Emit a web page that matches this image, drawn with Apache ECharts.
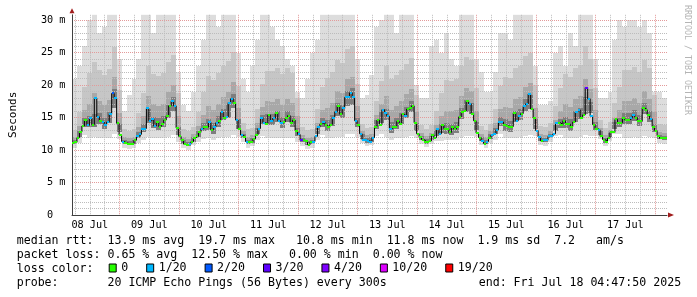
<!DOCTYPE html>
<html><head><meta charset="utf-8">
<script src="https://cdn.jsdelivr.net/npm/echarts@6/dist/echarts.min.js"></script>
<style>html,body{margin:0;padding:0;background:#fff}#c{width:697px;height:297px}</style>
</head><body><div id="c"></div>
<script>
// hours since 08 Jul 00:00 of the first sample (Jul 8 04:47:50)
const START_H = 4 + 47/60 + 50/3600;
const dayLabels = ['08 Jul','09 Jul','10 Jul','11 Jul','12 Jul','13 Jul','14 Jul','15 Jul','16 Jul','17 Jul'];
const yLabelValues = [0,5,10,15,20,25,30];

// hourly median rtt (ms)
const medianRtt = [
11.1,11.2,11.9,12.8,13.7,14.6,13.8,14.9,13.9,18.0,
15.1,14.4,14.3,13.9,14.3,15.5,18.7,18.0,14.1,12.3,
11.3,11.1,11.0,11.0,10.9,11.5,12.1,12.4,13.3,13.3,
16.4,14.5,14.8,13.7,14.3,13.6,14.0,14.6,15.3,16.8,
17.5,16.8,13.4,12.1,11.5,10.9,10.8,10.9,11.3,11.9,
12.1,12.7,13.3,13.6,13.5,14.3,13.1,13.5,14.2,14.5,
15.8,14.9,15.1,17.3,17.9,17.3,14.6,13.2,12.3,12.0,
11.3,11.2,11.2,11.7,12.3,13.3,15.0,14.2,14.0,15.4,
14.4,14.9,15.7,14.5,14.1,14.3,14.9,15.3,14.2,14.6,
13.0,12.4,11.5,11.5,11.4,10.8,11.2,11.3,12.1,13.5,
14.0,14.3,13.8,13.5,13.9,15.0,15.9,16.8,15.5,16.4,
18.1,18.1,18.8,18.1,14.5,13.9,12.5,11.6,11.5,11.4,
11.3,11.9,13.6,14.6,13.9,16.2,15.7,15.2,13.3,13.5,
13.6,14.4,14.0,15.5,15.2,16.3,16.4,16.8,14.2,12.5,
12.0,11.6,11.3,11.3,11.4,12.3,11.9,13.2,12.5,13.9,
13.3,13.2,12.7,13.6,13.2,13.6,15.1,15.9,16.0,17.5,
17.1,15.6,14.5,12.6,11.9,11.4,11.0,11.3,11.8,12.3,
12.5,13.1,14.3,14.3,13.9,13.7,13.6,13.6,15.7,14.5,
15.2,15.6,16.7,17.1,18.6,16.3,14.9,13.0,12.0,11.4,
11.5,11.5,12.1,12.1,12.5,14.1,14.2,13.9,14.5,14.0,
14.0,13.6,14.3,15.9,16.2,14.9,15.4,19.6,17.9,15.2,
13.9,13.3,13.1,12.1,11.6,11.3,11.8,12.7,12.7,14.7,
14.2,14.2,15.0,14.6,14.6,14.9,15.4,15.0,14.5,14.4,
16.5,16.2,15.4,14.8,13.6,13.0,12.2,11.8,11.8,11.8
];
// hourly lost pings (of 20)
const lossCount = [
0,0,0,0,0,0,1,1,0,1, 1,0,1,1,1,1,2,1,0,0, 1,0,0,0,0,0,1,1,1,1, 1,1,1,1,0,0,0,0,0,0,
1,1,0,0,0,0,0,1,0,0, 0,0,1,0,0,1,0,1,1,0, 1,0,1,1,1,0,1,0,1,0, 1,0,0,0,0,1,1,1,0,0,
1,1,0,1,1,0,0,0,0,0, 0,1,3,0,0,0,0,1,1,1, 0,1,0,0,0,1,1,0,0,1, 1,1,1,1,1,0,1,1,1,1,
1,1,0,0,0,1,1,1,1,0, 0,0,0,0,1,0,0,0,0,0, 0,0,0,0,0,0,0,1,1,0, 0,0,0,0,0,0,0,0,0,0,
1,0,0,0,0,1,0,1,0,1, 1,1,1,1,0,0,0,0,0,1, 1,0,1,1,1,0,0,1,1,0, 1,1,1,1,1,1,0,0,0,0,
0,0,0,1,1,0,0,3,1,1, 0,0,1,0,0,0,0,0,0,0, 0,0,0,0,0,1,1,0,0,0, 0,0,0,1,0,0,0,0,0,0
];
// smoke, 2-hour steps (ms)
const smokeMin = [
10.25,11.15,12.35,11.85,12.0,11.9,11.8,11.9,12.5,11.7, 10.3,10.1,10.3,11.05,11.5,12.0,11.8,11.8,11.8,12.0,
12.3,11.25,10.3,9.95,10.7,11.2,11.65,11.8,11.6,11.8, 12.0,12.0,12.3,12.0,11.25,10.35,10.55,11.6,12.2,11.9,
11.9,11.9,11.8,11.9,11.8,11.2,10.6,10.2,10.35,11.6, 12.35,11.8,11.8,12.0,12.0,12.5,12.5,12.0,11.15,10.55,
10.7,12.2,12.5,12.0,11.6,11.8,11.9,12.0,12.2,11.85, 10.9,10.4,10.95,11.35,11.4,11.5,11.5,11.6,12.0,12.2,
12.2,12.05,10.75,10.25,11.15,11.6,12.5,11.8,11.8,11.9, 12.0,12.2,12.3,12.2,10.8,10.6,11.2,12.1,12.25,11.8,
11.8,11.9,12.0,12.3,12.2,12.1,11.7,10.55,11.35,12.5, 12.4,11.9,11.9,12.0,11.8,12.1,12.0,11.8,11.1,10.9
];
const smokeQ25 = [
10.85,11.95,13.55,13.55,13.5,13.95,13.3,14.1,16.5,12.7, 10.9,10.7,10.9,11.85,12.7,14.2,13.45,13.15,13.5,15.0,
16.0,12.25,10.9,10.55,11.3,12.0,12.85,13.1,12.5,13.55, 14.55,15.0,16.5,13.2,11.85,10.95,11.15,12.4,14.0,13.9,
13.85,14.3,13.4,14.3,13.6,12.2,11.2,10.8,10.95,12.4, 13.55,12.85,13.65,15.3,15.0,16.8,17.0,13.5,11.75,11.15,
11.3,13.3,14.2,14.6,12.6,13.2,13.95,14.95,15.8,12.85, 11.5,11.0,11.55,12.15,12.6,12.45,12.35,12.6,14.7,15.9,
15.5,13.05,11.35,10.85,11.75,12.4,13.7,13.0,12.8,14.3, 14.6,16.0,16.3,13.2,11.4,11.2,11.8,12.9,13.45,13.45,
13.0,14.3,14.75,15.5,15.7,13.1,12.3,11.15,11.95,13.3, 13.6,14.0,13.95,14.4,13.65,15.5,14.3,12.8,11.7,11.5
];
const smokeQ60 = [
11.5,12.9,14.9,15.3,15.5,15.7,15.0,15.8,19.4,14.0, 11.55,11.35,11.55,12.8,14.0,16.3,15.15,14.85,15.2,17.0,
18.1,13.5,11.55,11.2,11.95,12.95,14.2,14.8,14.2,15.25, 16.25,17.1,18.6,14.7,12.5,11.6,11.8,13.35,15.35,15.6,
15.55,16.0,15.1,16.0,15.3,13.45,11.85,11.45,11.6,13.35, 14.9,14.55,15.35,17.3,16.9,19.1,19.5,15.0,12.4,11.8,
11.95,14.65,15.8,16.35,14.3,14.9,15.65,16.65,17.5,14.1, 12.15,11.65,12.2,13.1,13.95,14.15,14.05,14.3,16.4,17.7,
17.3,14.3,12.0,11.5,12.4,13.35,15.05,14.7,14.5,16.0, 16.3,17.85,18.4,14.7,12.05,11.85,12.45,13.85,14.8,15.15,
14.7,16.0,16.45,18.2,17.45,14.35,12.95,11.8,12.6,14.25, 14.95,15.7,15.65,16.1,15.35,17.25,16.0,14.05,12.35,12.15
];
const smokeQ75 = [
11.95,13.65,16.15,17.15,18.7,17.55,16.9,17.7,21.2,15.7, 12.0,11.8,12.0,13.55,15.3,18.25,17.05,16.75,17.1,18.85,
19.95,15.25,12.0,11.65,12.4,13.7,15.45,16.7,16.1,17.15, 18.15,19.0,20.4,16.4,12.95,12.05,12.25,14.1,16.6,17.5,
17.45,17.9,17.0,17.9,17.2,15.2,12.3,11.9,12.05,14.1, 16.15,16.45,17.25,19.15,18.75,20.9,21.25,16.7,12.85,12.25,
12.4,15.4,17.05,18.25,16.2,16.8,17.55,18.55,19.4,15.85, 12.6,12.1,12.65,13.85,15.2,16.05,15.95,16.2,18.3,19.55,
19.15,16.05,12.45,11.95,12.85,14.1,16.3,16.6,16.4,17.9, 18.2,19.7,20.25,16.45,12.5,12.3,12.9,14.6,16.05,17.05,
16.6,17.9,18.35,21.0,19.35,16.1,13.4,12.25,13.05,15.0, 16.2,17.6,17.55,18.0,17.25,19.15,17.9,15.8,12.8,12.6
];
const smokeQ90 = [
13.15,15.85,19.65,21.85,23.5,22.25,21.6,22.4,25.9,19.2, 13.2,13.0,13.2,15.75,18.8,22.95,21.75,21.45,21.8,23.55,
24.65,18.75,13.2,12.85,13.6,15.9,18.95,21.4,20.8,21.85, 22.85,23.7,25.1,19.9,14.15,13.25,13.45,16.3,20.1,22.2,
22.15,22.6,21.7,22.6,21.9,18.0,13.5,13.1,13.25,16.3, 19.65,21.15,21.95,23.85,23.45,25.6,25.95,20.2,14.05,13.45,
13.6,17.6,20.55,22.95,20.9,21.5,22.25,23.25,24.1,18.5, 13.8,13.3,13.85,16.05,18.7,20.75,20.65,20.9,23.0,24.25,
23.85,19.55,13.65,13.15,14.05,16.3,19.8,21.3,21.1,22.6, 22.9,24.4,24.95,19.95,13.7,13.5,14.1,16.8,19.55,21.75,
21.3,22.6,23.05,26.0,24.05,19.6,14.6,13.45,14.25,17.2, 19.7,22.3,22.25,22.7,21.95,23.85,22.6,18.5,14.0,13.8
];
const smokeMax = [
21,23,26,30,31,28,29,31,31,24, 16,18.5,21,24,31,31,28,31,31,31,
31,22,17,16,19,23,27,31,31,29, 31,31,31,25,21,19,23,27,31,31,
29,27,26,24,23,19,18,21,25,27, 31,31,31,31,31,31,31,24,18,18.5,
21.5,29,30,31,31,28,31,31,31,20, 18,18,26,27,25,28,24,23,31,31,
31,24,22,19,19,22,28,28,27,31, 31,31,31,23,17,17,17.5,25,26,23,
28,26,31,31,31,24,18,18,19,27, 30,29,30,30,29,30,28,19,19,18
];

const lossNames = ['0','1/20','2/20','3/20','4/20','10/20','19/20'];
const lossSteps = [0,1,2,3,4,10,19];
const lossColors = ['#26ff00','#00b8ff','#0059ff','#5e00ff','#7e00ff','#dd00ff','#ff0000'];

const statsLines = [
  'median rtt:  13.9 ms avg  19.7 ms max   10.8 ms min  11.8 ms now  1.9 ms sd  7.2   am/s',
  'packet loss: 0.65 % avg  12.50 % max   0.00 % min  0.00 % now',
  'loss color:',
  'probe:       20 ICMP Echo Pings (56 Bytes) every 300s'
];
const endText = 'end: Fri Jul 18 04:47:50 2025';
const creditText = 'RRDTOOL / TOBI OETIKER';

const MONO = 'DejaVu Sans Mono';
const GRID_RED = '#e39a9a';
const GRID_GRAY = '#bcbcbc';

// ---- build series data ----
const smokeData = smokeMax.map((_, j) => [START_H + 2*j, START_H + 2*j + 2,
  smokeMin[j], smokeQ25[j], smokeQ60[j], smokeQ75[j], smokeQ90[j], smokeMax[j]]);
const medianLine = medianRtt.map((v, i) => [START_H + i, v]);
medianLine.push([START_H + medianRtt.length, medianRtt[medianRtt.length - 1]]);
function binOf(loss) { let b = 0; lossSteps.forEach((s, k) => { if (loss >= s) b = k; }); return b; }
const lossSeriesData = lossNames.map(() => []);
medianRtt.forEach((v, i) => lossSeriesData[binOf(lossCount[i])].push([START_H + i, v]));

const sixHourTicks = [];
for (let h = 6; h <= START_H + 240; h += 6) sixHourTicks.push(h);
const noonTicks = dayLabels.map((_, k) => 12 + 24*k);

function clipTo(params, x0, y0, x1, y1) {
  const cs = params.coordSys;
  return echarts.graphic.clipRectByRect(
    {x: x0, y: y0, width: x1 - x0, height: y1 - y0},
    {x: cs.x, y: cs.y, width: cs.width, height: cs.height});
}
function smokeItem(params, api) {
  const t0 = api.value(0), t1 = api.value(1);
  const lay = (lo, hi, color) => {
    const a = api.coord([t0, hi]), b = api.coord([t1, lo]);
    const s = clipTo(params, Math.round(a[0]), Math.round(a[1]), Math.round(b[0]), Math.round(b[1]));
    return s ? {type: 'rect', shape: s, style: {fill: color}} : null;
  };
  const kids = [
    lay(api.value(2), api.value(7), '#dddddd'),
    lay(api.value(3), api.value(6), '#c6c6c6'),
    lay(api.value(3), api.value(5), '#a8a8a8'),
    lay(api.value(3), api.value(4), '#7e7e7e')
  ].filter(Boolean);
  return {type: 'group', children: kids};
}
function segRenderer(color) {
  return function (params, api) {
    const t = api.value(0), v = api.value(1);
    const a = api.coord([t, v]), b = api.coord([t + 1, v]);
    const x0 = Math.round(a[0]), x1 = Math.round(b[0]);
    return {type: 'rect', shape: {x: x0, y: Math.round(a[1]) - 1, width: Math.max(x1 - x0, 2), height: 2},
      style: {fill: color}};
  };
}

const series = [
  {type: 'custom', name: 'smoke', renderItem: smokeItem, data: smokeData, z: 1,
   encode: {x: [0, 1], y: [2, 7]}, silent: true},
  {type: 'line', name: 'median', data: medianLine, step: 'end', showSymbol: false, symbol: 'none',
   lineStyle: {color: '#000', width: 1}, z: 4, silent: true}
];
lossNames.forEach((n, k) => series.push({
  type: 'custom', name: n, data: lossSeriesData[k], renderItem: segRenderer(lossColors[k]),
  itemStyle: {color: lossColors[k]}, encode: {x: 0, y: 1}, z: 5, silent: true
}));

const textStyleBase = {fontFamily: MONO, fontSize: 11.6, fill: '#000', verticalAlign: 'middle'};
const option = {
  animation: false,
  backgroundColor: '#fff',
  grid: {left: 67, right: 30, top: 14.8, bottom: 82, containLabel: false},
  xAxis: [{
    type: 'value', min: START_H, max: START_H + 240, z: 2,
    axisLine: {show: true, lineStyle: {color: '#404040', width: 1}},
    axisTick: {show: false, customValues: sixHourTicks},
    axisLabel: {customValues: noonTicks, margin: 5, color: '#000', fontFamily: MONO, fontSize: 10.2,
      formatter: v => dayLabels[Math.round((v - 12) / 24)] || ''},
    splitLine: {show: true, lineStyle: {color: [GRID_GRAY, GRID_GRAY, GRID_GRAY, GRID_RED], type: 'dotted', width: 1}}
  }, {
    type: 'value', min: START_H, max: START_H + 240, position: 'bottom', z: 6,
    axisLine: {show: true, symbol: ['none', 'triangle'], symbolSize: [5, 6], symbolOffset: [0, 4],
      lineStyle: {color: '#a11d1d', width: 0}},
    axisTick: {show: false}, axisLabel: {show: false}, splitLine: {show: false}
  }],
  yAxis: [{
    type: 'value', min: 0, max: 30.8, interval: 1, z: 2,
    name: 'Seconds', nameLocation: 'middle', nameGap: 53,
    nameTextStyle: {fontFamily: MONO, fontSize: 11, color: '#000'},
    axisLine: {show: true, lineStyle: {color: '#404040', width: 1}},
    axisTick: {show: false},
    axisLabel: {margin: 6.5, color: '#000', fontFamily: MONO, fontSize: 10.2,
      formatter: v => yLabelValues.indexOf(v) < 0 ? '' : (v === 0 ? '0  ' : v + ' m')},
    splitLine: {show: true, showMaxLine: false,
      lineStyle: {color: [GRID_RED, GRID_GRAY, GRID_GRAY, GRID_GRAY, GRID_GRAY], type: 'dotted', width: 1}}
  }, {
    type: 'value', min: 0, max: 30.8, position: 'left', z: 6,
    axisLine: {show: true, symbol: ['none', 'triangle'], symbolSize: [5, 5], symbolOffset: [0, 4],
      lineStyle: {color: '#a11d1d', width: 0}},
    axisTick: {show: false}, axisLabel: {show: false}, splitLine: {show: false}
  }],
  legend: {
    data: lossNames, left: 108.7, top: 262, orient: 'horizontal', padding: 0,
    itemWidth: 7, itemHeight: 8, itemGap: 18, icon: 'rect', selectedMode: false,
    itemStyle: {borderColor: '#000', borderWidth: 1},
    textStyle: {fontFamily: MONO, fontSize: 11.6, color: '#000'}
  },
  graphic: [
    {type: 'text', x: 16.7, y: 241, style: Object.assign({text: statsLines[0]}, textStyleBase)},
    {type: 'text', x: 16.7, y: 255, style: Object.assign({text: statsLines[1]}, textStyleBase)},
    {type: 'text', x: 16.7, y: 269, style: Object.assign({text: statsLines[2]}, textStyleBase)},
    {type: 'text', x: 16.7, y: 283, style: Object.assign({text: statsLines[3]}, textStyleBase)},
    {type: 'text', x: 478.7, y: 283, style: Object.assign({text: endText}, textStyleBase)},
    {type: 'text', x: 687, y: 5, rotation: -Math.PI / 2,
     style: {text: creditText, fontFamily: MONO, fontSize: 8.3, fill: '#b4b4b4', align: 'left', verticalAlign: 'middle'}}
  ],
  series: series
};
const chart = echarts.init(document.getElementById('c'), null, {renderer: 'canvas'});
chart.setOption(option);
</script>
</body></html>
